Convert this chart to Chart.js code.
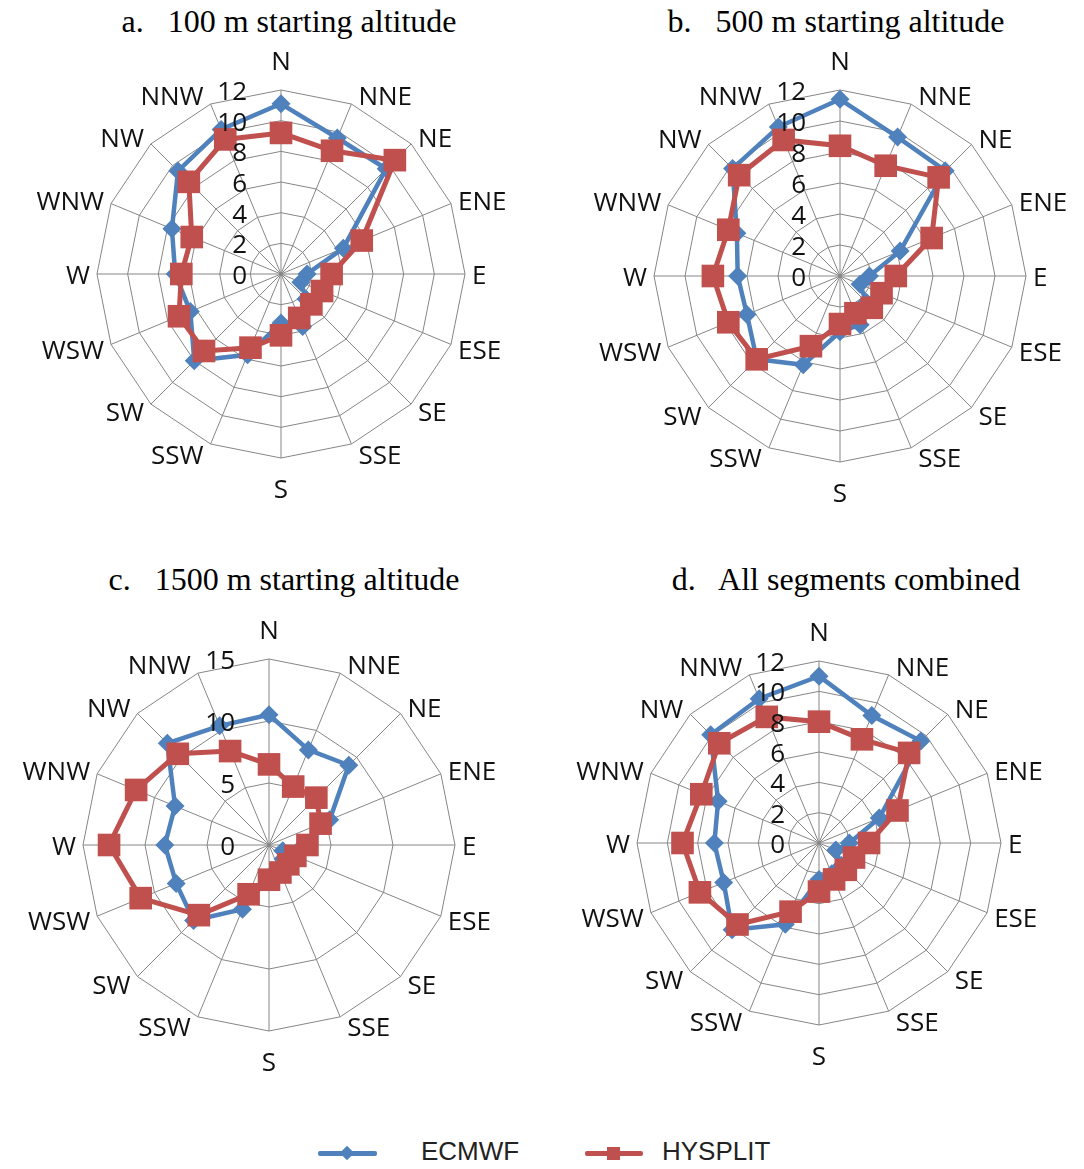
<!DOCTYPE html>
<html>
<head>
<meta charset="utf-8">
<script src="https://cdn.jsdelivr.net/npm/chart.js@4.4.1/dist/chart.umd.min.js"></script>
<style>
  body { margin: 0; background: #fff; width: 1084px; height: 1169px; position: relative; overflow: hidden; }
  canvas { position: absolute; }
  .titulo { position: absolute; font-family: "Liberation Serif", "Times New Roman", serif; font-size: 32px; line-height: 32px; color: #000; white-space: pre; transform: translateX(-50%); }
  .leyenda { position: absolute; font-family: "Liberation Sans", Arial, sans-serif; font-size: 26px; line-height: 26px; color: #222; }
  .linea { position: absolute; height: 5px; border-radius: 2px; }
  .marca { position: absolute; }
</style>
</head>
<body>

<div class="titulo" style="left:289px; top:5px;">a.   100 m starting altitude</div>
<div class="titulo" style="left:836px; top:5px;">b.   500 m starting altitude</div>
<div class="titulo" style="left:284px; top:563px;">c.   1500 m starting altitude</div>
<div class="titulo" style="left:846px; top:563px;">d.   All segments combined</div>

<canvas id="graficoA" width="542" height="510" style="left:0px; top:40px;"></canvas>
<canvas id="graficoB" width="542" height="510" style="left:542px; top:40px;"></canvas>
<canvas id="graficoC" width="542" height="500" style="left:0px; top:600px;"></canvas>
<canvas id="graficoD" width="542" height="500" style="left:542px; top:600px;"></canvas>

<!-- leyenda -->
<div class="linea" style="left:318px; top:1151px; width:59px; background:#4F81BD;"></div>
<div class="marca" style="left:341px; top:1147px; width:12px; height:12px; background:#4F81BD; transform:rotate(45deg) scale(0.85);"></div>
<div class="leyenda" style="left:421px; top:1138px;">ECMWF</div>
<div class="linea" style="left:585px; top:1151px; width:58px; background:#C0504D;"></div>
<div class="marca" style="left:607px; top:1147px; width:13px; height:13px; background:#C0504D;"></div>
<div class="leyenda" style="left:662px; top:1138px;">HYSPLIT</div>

<script>
// Direcciones (ejes del radar)
const direcciones = ['N', 'NNE', 'NE', 'ENE', 'E', 'ESE', 'SE', 'SSE', 'S', 'SSW', 'SW', 'WSW', 'W', 'WNW', 'NW', 'NNW'];

// Marcas del eje radial
const ticks12 = [0, 2, 4, 6, 8, 10, 12];
const ticks15 = [0, 5, 10, 15];

// a. 100 m
const ecmwf100 = [11.1, 9.6, 9.7, 4.4, 1.7, 1.4, 2.3, 3.7, 3.2, 5.7, 8.0, 6.4, 6.9, 7.7, 9.5, 10.2];
const hysplit100 = [9.2, 8.7, 10.5, 5.7, 3.3, 2.9, 2.8, 3.1, 4.0, 5.2, 7.1, 7.2, 6.5, 6.3, 8.5, 9.5];

// b. 500 m
const ecmwf500 = [11.4, 9.7, 9.6, 4.2, 1.9, 1.4, 2.4, 3.4, 3.6, 6.2, 7.6, 6.5, 6.6, 7.2, 9.8, 10.4];
const hysplit500 = [8.4, 7.7, 9.0, 6.4, 3.6, 2.9, 2.9, 2.6, 3.1, 4.9, 7.6, 7.8, 8.2, 7.8, 9.2, 9.5];

// c. 1500 m
const ecmwf1500 = [10.5, 8.3, 9.1, 5.3, 2.8, 1.2, 1.6, 2.2, 2.6, 5.6, 8.6, 8.1, 8.4, 8.2, 11.6, 10.4];
const hysplit1500 = [6.5, 5.1, 5.4, 4.5, 3.1, 2.3, 2.2, 2.4, 2.8, 4.3, 8.0, 11.2, 12.9, 11.6, 10.4, 8.2];

// d. todos los segmentos
const ecmwfTodos = [11.0, 9.1, 9.5, 4.3, 2.0, 1.2, 2.1, 2.2, 2.4, 5.8, 8.1, 6.8, 6.9, 7.2, 10.1, 10.3];
const hysplitTodos = [8.0, 7.4, 8.4, 5.6, 3.3, 2.5, 2.5, 2.6, 3.2, 4.9, 7.6, 8.5, 9.0, 8.4, 9.3, 9.0];

const azul = '#4F81BD';
const rojo = '#C0504D';
const gris = '#868686';
const fuente = '26px "Open Sans", "Liberation Sans", sans-serif';

// Dibuja los numeros del eje y los nombres de las direcciones
const etiquetasPlugin = {
  id: 'etiquetas',
  afterDatasetsDraw(chart) {
    const r = chart.scales.r;
    const ctx = chart.ctx;
    ctx.save();
    ctx.fillStyle = '#111';
    ctx.font = fuente;
    ctx.textBaseline = 'alphabetic';

    // numeros del eje radial
    ctx.textAlign = 'right';
    r.ticks.forEach(t => {
      const y = r.yCenter - r.getDistanceFromCenterForValue(t.value);
      ctx.fillText(t.label, r.xCenter - 34, y + 10);
    });

    // direcciones
    const n = direcciones.length;
    direcciones.forEach((d, i) => {
      const p = r.getPointPosition(i, r.drawingArea);
      const ang = i * 2 * Math.PI / n;
      if (i === 0) {
        ctx.textAlign = 'center';
        ctx.fillText(d, p.x, p.y - 20);
      } else if (i === n / 2) {
        ctx.textAlign = 'center';
        ctx.fillText(d, p.x, p.y + 40);
      } else {
        const derecha = i < n / 2;
        ctx.textAlign = derecha ? 'left' : 'right';
        const x = p.x + (derecha ? 7 : -7);
        const y = p.y - 10 * Math.cos(ang) + 1 + 9.3;
        ctx.fillText(d, x, y);
      }
    });
    ctx.restore();
  }
};

function crearRadar(id, ecmwf, hysplit, marcas, centro, radio) {
  const canvas = document.getElementById(id);
  const cx = parseFloat(canvas.style.left);
  const cy = parseFloat(canvas.style.top);
  const izq = centro[0] - radio - cx;
  const arr = centro[1] - radio - cy;
  const der = canvas.width - izq - 2 * radio;
  const abj = canvas.height - arr - 2 * radio;

  new Chart(canvas.getContext('2d'), {
    type: 'radar',
    data: {
      labels: direcciones,
      datasets: [{
        label: 'ECMWF',
        data: ecmwf,
        borderColor: azul,
        backgroundColor: azul,
        borderWidth: 4.5,
        pointStyle: 'rectRot',
        pointRadius: 9.5,
        pointBorderWidth: 0,
        fill: false,
        order: 2
      }, {
        label: 'HYSPLIT',
        data: hysplit,
        borderColor: rojo,
        backgroundColor: rojo,
        borderWidth: 5,
        pointStyle: 'rect',
        pointRadius: 16,
        pointBorderWidth: 0,
        fill: false,
        order: 1
      }]
    },
    options: {
      responsive: false,
      animation: false,
      layout: { padding: { left: izq, top: arr, right: der, bottom: abj } },
      plugins: {
        legend: { display: false },
        tooltip: { enabled: false }
      },
      scales: {
        r: {
          min: marcas[0],
          max: marcas[marcas.length - 1],
          ticks: { display: false, stepSize: marcas[1] - marcas[0] },
          pointLabels: { display: false },
          grid: { color: gris, lineWidth: 1 },
          angleLines: { color: gris, lineWidth: 1 }
        }
      }
    },
    plugins: [etiquetasPlugin]
  });
}

crearRadar('graficoA', ecmwf100, hysplit100, ticks12, [281, 274], 184);
crearRadar('graficoB', ecmwf500, hysplit500, ticks12, [840, 276], 186);
crearRadar('graficoC', ecmwf1500, hysplit1500, ticks15, [269, 845], 186);
crearRadar('graficoD', ecmwfTodos, hysplitTodos, ticks12, [819, 843], 182);
</script>
</body>
</html>
